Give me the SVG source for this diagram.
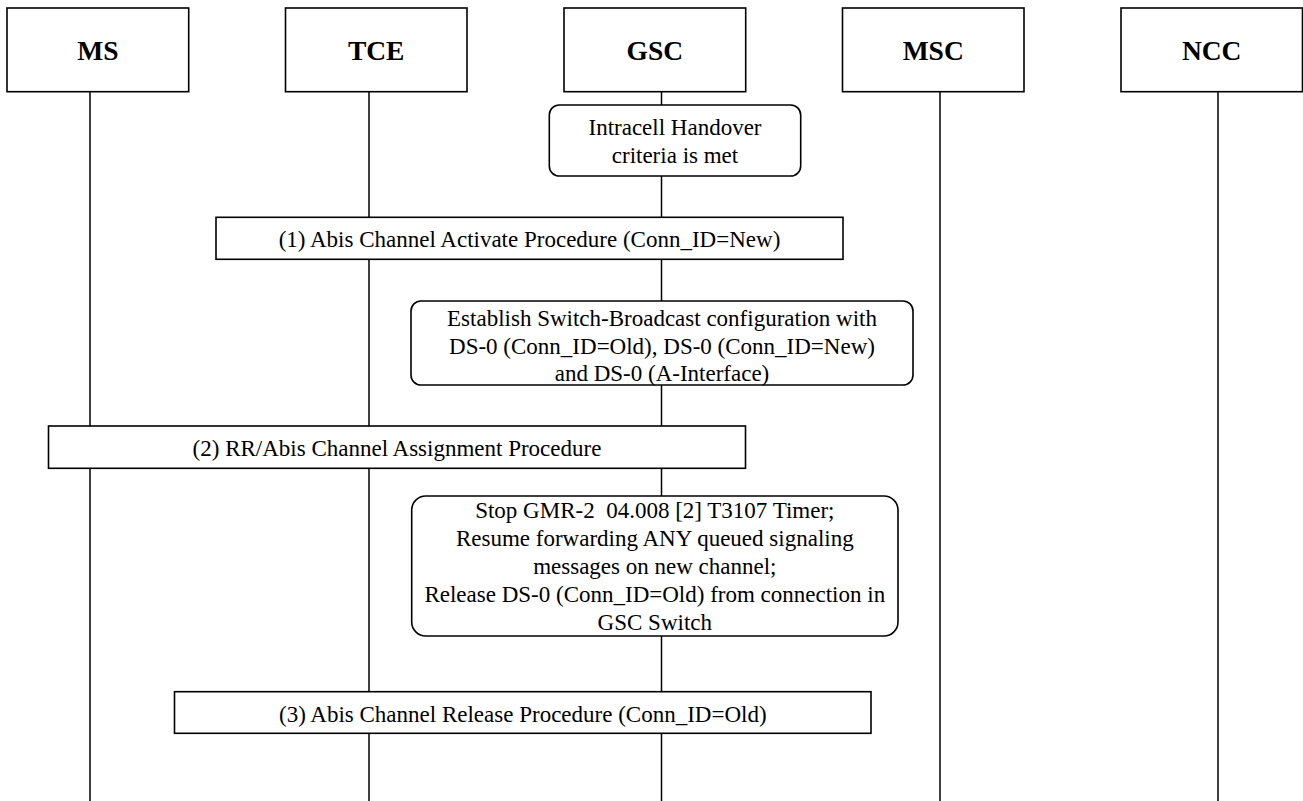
<svg xmlns="http://www.w3.org/2000/svg" width="1303" height="801" viewBox="0 0 1303 801">
<style>
.hdr{fill:#fff;stroke:#000;stroke-width:1.6}
.box{fill:#fff;stroke:#000;stroke-width:1.6}
.life{stroke:#000;stroke-width:1.5;fill:none}
.ht{font-family:"Liberation Serif","Times New Roman",serif;font-size:27.5px;font-weight:bold;text-anchor:middle;fill:#000}
.t{font-family:"Liberation Serif","Times New Roman",serif;font-size:23px;text-anchor:middle;fill:#000;white-space:pre}
</style>
<rect width="1303" height="801" fill="#fff"/>
<g id="connectors">
<line class="life" x1="90" y1="91.7" x2="90" y2="801"/>
<line class="life" x1="369" y1="91.7" x2="369" y2="801"/>
<line class="life" x1="661.5" y1="91.7" x2="661.5" y2="801"/>
<line class="life" x1="940" y1="91.7" x2="940" y2="801"/>
<line class="life" x1="1218" y1="91.7" x2="1218" y2="801"/>
</g>
<g id="MS"><rect class="hdr" x="7" y="8" width="181.7" height="83.7"/><text class="ht" x="97.8" y="60">MS</text></g>
<g id="TCE"><rect class="hdr" x="285.5" y="8" width="181.5" height="83.7"/><text class="ht" x="376.2" y="60">TCE</text></g>
<g id="GSC"><rect class="hdr" x="564" y="8" width="181.7" height="83.7"/><text class="ht" x="654.8" y="60">GSC</text></g>
<g id="MSC"><rect class="hdr" x="842.5" y="8" width="181.5" height="83.7"/><text class="ht" x="933.2" y="60">MSC</text></g>
<g id="NCC"><rect class="hdr" x="1121" y="8" width="181.5" height="83.7"/><text class="ht" x="1211.7" y="60">NCC</text></g>
<g id="intracell"><rect class="box" x="549.3" y="105" width="251.4" height="71" rx="10"/>
<text class="t" x="675" y="135">Intracell Handover</text>
<text class="t" x="675" y="163.3">criteria is met</text></g>
<g id="step1"><rect class="box" x="216" y="217.3" width="627" height="42"/>
<text class="t" x="529.5" y="247.3">(1) Abis Channel Activate Procedure (Conn_ID=New)</text></g>
<g id="establish"><rect class="box" x="411" y="301" width="502" height="84" rx="10"/>
<text class="t" x="662" y="325.5">Establish Switch-Broadcast configuration with</text>
<text class="t" x="662" y="353.5">DS-0 (Conn_ID=Old), DS-0 (Conn_ID=New)</text>
<text class="t" x="662" y="381">and DS-0 (A-Interface)</text></g>
<g id="step2"><rect class="box" x="48.5" y="426" width="697" height="42.3"/>
<text class="t" x="397" y="456">(2) RR/Abis Channel Assignment Procedure</text></g>
<g id="stop"><rect class="box" x="411.7" y="496" width="486.3" height="140" rx="14"/>
<text class="t" x="654.8" y="518.3">Stop GMR-2  04.008 [2] T3107 Timer;</text>
<text class="t" x="654.8" y="546">Resume forwarding ANY queued signaling</text>
<text class="t" x="654.8" y="574.3">messages on new channel;</text>
<text class="t" x="654.8" y="602.3">Release DS-0 (Conn_ID=Old) from connection in</text>
<text class="t" x="654.8" y="629.5">GSC Switch</text></g>
<g id="step3"><rect class="box" x="174.5" y="691.7" width="696.5" height="41.6"/>
<text class="t" x="522.8" y="721.7">(3) Abis Channel Release Procedure (Conn_ID=Old)</text></g>
</svg>
